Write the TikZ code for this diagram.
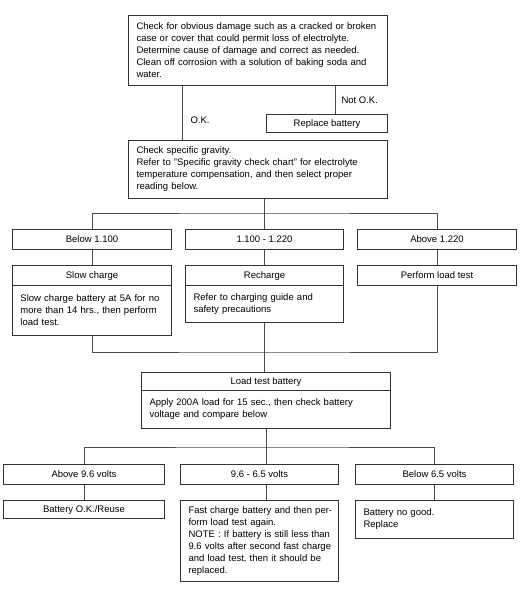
\documentclass[tikz,border=0pt]{standalone}
\usepackage{fontspec}
\setmainfont{Liberation Sans}
\tikzset{
  panel/.style={draw=black!80, line width=1pt, anchor=north west, inner sep=0pt, font=\fontsize{9.5}{12}\selectfont},
  headbox/.style={panel, text height=7pt, text depth=2pt},
  notebox/.style={panel, align=left, execute at begin node={\leftskip=8pt\rightskip=-30pt plus 1fil\relax}},
  link/.style={line width=1pt, draw=black!70},
  linklabel/.style={font=\fontsize{9.5}{12}\selectfont, inner sep=0pt},
}

\begin{document}
\begin{tikzpicture}[x=1pt, y=-1pt]
\useasboundingbox (0,0) rectangle (523,590);
\node[notebox, text width=259pt, minimum height=70pt] (chk) at (128,15) {Check for obvious damage such as a cracked or broken\\case or cover that could permit loss of electrolyte.\\Determine cause of damage and correct as needed.\\Clean off corrosion with a solution of baking soda and\\water.};
\node[headbox, minimum width=121pt, minimum height=18pt] (rep) at (266,114) {Replace battery};
\node[notebox, text width=259pt, minimum height=58pt] (sg) at (128,140) {Check specific gravity.\\Refer to "Specific gravity check chart" for electrolyte\\temperature compensation, and then select proper\\reading below.};
\node[headbox, minimum width=159pt, minimum height=20pt] (b1) at (12,229) {Below 1.100};
\node[headbox, minimum width=158pt, minimum height=20pt] (b2) at (185,229) {1.100 - 1.220};
\node[headbox, minimum width=159pt, minimum height=20pt] (b3) at (357,229) {Above 1.220};
\node[headbox, minimum width=159pt, minimum height=20pt] (s1h) at (12,265) {Slow charge};
\node[notebox, text width=159pt, minimum height=50pt] (s1b) at (12,285) {Slow charge battery at 5A for no\\more than 14 hrs., then perform\\load test.};
\node[headbox, minimum width=158pt, minimum height=20pt] (s2h) at (185,265) {Recharge};
\node[notebox, text width=158pt, minimum height=37pt] (s2b) at (185,285) {Refer to charging guide and\\safety precautions};
\node[headbox, minimum width=159pt, minimum height=20pt] (s3h) at (357,265) {Perform load test};
\node[headbox, minimum width=249pt, minimum height=18pt] (lth) at (141,372) {Load test battery};
\node[notebox, text width=249pt, minimum height=38pt] (ltb) at (141,390) {Apply 200A load for 15 sec., then check battery\\voltage and compare below};
\node[headbox, minimum width=161pt, minimum height=20pt] (v1) at (3,464) {Above 9.6 volts};
\node[headbox, minimum width=158pt, minimum height=20pt] (v2) at (180,464) {9.6 - 6.5 volts};
\node[headbox, minimum width=158pt, minimum height=20pt] (v3) at (355,464) {Below 6.5 volts};
\node[headbox, minimum width=161pt, minimum height=18pt] (r1) at (3,500) {Battery O.K./Reuse};
\node[notebox, text width=158pt, minimum height=81pt] (r2) at (180,500) {Fast charge battery and then per-\\form load test again.\\NOTE : If battery is still less than\\9.6 volts after second fast charge\\and load test, then it should be\\replaced.};
\node[notebox, text width=158pt, minimum height=38pt] (r3) at (355,500) {Battery no good.\\Replace};
\coordinate (bus1) at (264,213);
\coordinate (bus2) at (264,352);
\coordinate (bus3) at (265,447);
% first checks
\draw[link] ([xshift=54pt]chk.south west) -- ([xshift=54pt]chk.south west |- sg.north) node[linklabel, pos=0.64, right=8pt] {O.K.};
\draw[link] ([xshift=-53pt]chk.south east) -- ([xshift=-53pt]chk.south east |- rep.north) node[linklabel, midway, right=6pt] {Not O.K.};
% specific gravity
\draw[link] (b2.north |- sg.south) -- (b2.north);
\draw[link] (b1.north) |- (bus1) -| (b3.north);
\draw[link] (b1.south) -- (s1h.north);
\draw[link] (b2.south) -- (s2h.north);
\draw[link] (b3.south) -- (s3h.north);
\draw[link] (s1b.south) |- (bus2) -| (s3h.south);
\draw[link] (s2b.south) -- (s2b.south |- lth.north);
% load test
\draw[link] (ltb.south) -- (ltb.south |- v2.north);
\draw[link] (v1.north) |- (bus3) -| (v3.north);
\draw[link] (v1.south) -- (r1.north);
\draw[link] (ltb.south |- v2.south) -- (ltb.south |- r2.north);
\draw[link] (v3.south) -- (r3.north);
\end{tikzpicture}
\end{document}
